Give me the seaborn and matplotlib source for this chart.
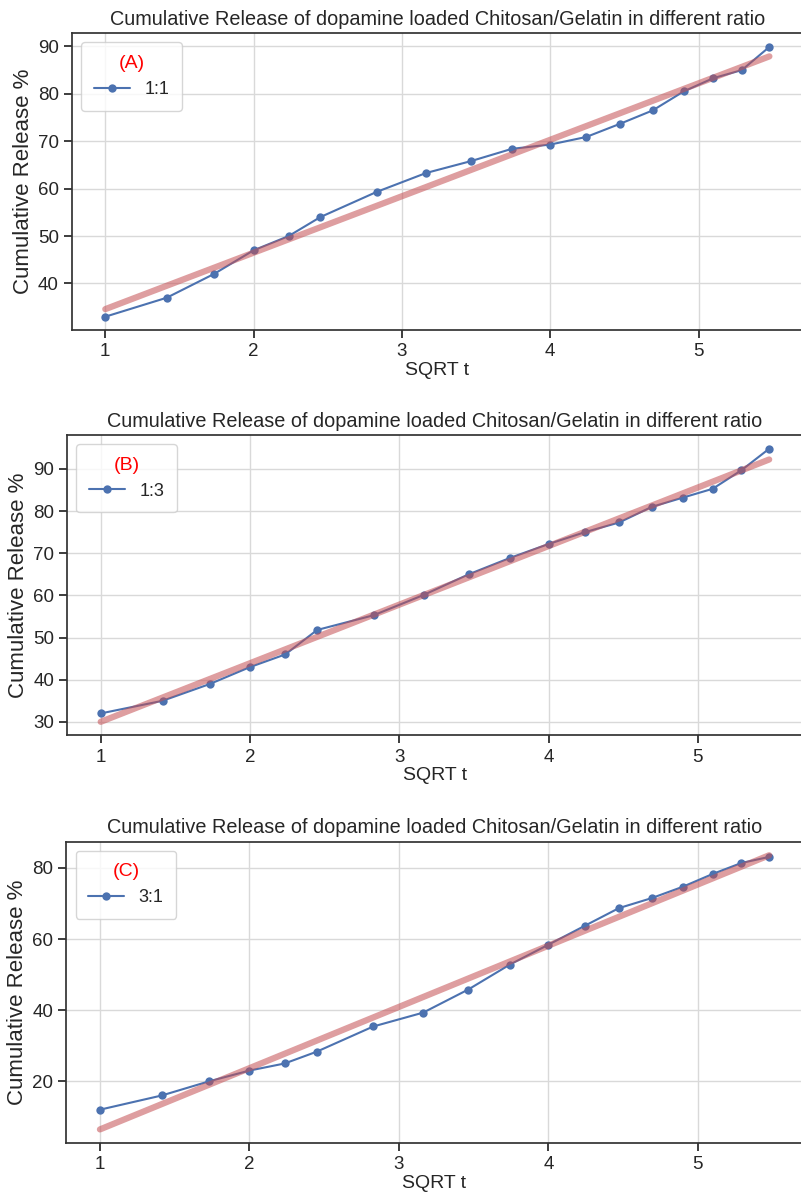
import numpy as np
import pandas as pd
import matplotlib
matplotlib.use("Agg")
import matplotlib.pyplot as plt
import seaborn as sns

# release times (h) -> plotted against sqrt(t)
t = [1, 2, 3, 4, 5, 6, 8, 10, 12, 14, 16, 18, 20, 22, 24, 26, 28, 30]

rel_11 = [33.0, 37.0, 42.0, 47.0, 50.0, 54.0, 59.3, 63.3, 65.8, 68.4, 69.3,
          70.9, 73.7, 76.5, 80.5, 83.3, 85.0, 89.9]
rel_13 = [32.0, 35.0, 39.0, 43.0, 46.0, 51.8, 55.3, 60.1, 65.0, 68.9, 72.2,
          75.0, 77.3, 81.0, 83.2, 85.3, 89.7, 94.8]
rel_31 = [12.0, 16.0, 20.0, 23.0, 25.0, 28.3, 35.4, 39.3, 45.8, 52.8, 58.4,
          63.7, 68.7, 71.5, 74.7, 78.3, 81.4, 83.1]

ratios = ["1:1", "1:3", "3:1"]
panels = ["(A)", "(B)", "(C)"]
series = [rel_11, rel_13, rel_31]

sns.set_theme(style="ticks", rc={"axes.grid": True})
plt.rcParams['font.family'] = ['Liberation Sans', 'DejaVu Sans']
plt.rcParams['axes.edgecolor'] = '#333333'
plt.rcParams['grid.color'] = '#d9d9d9'

fig = plt.figure(figsize=(8.01, 11.92), dpi=100)
# [left, bottom, width, height] in figure fractions
boxes = [[0.090, 0.723, 0.912, 0.249],
         [0.084, 0.383, 0.918, 0.252],
         [0.083, 0.041, 0.919, 0.253]]

blue = sns.color_palette("deep")[0]
red = sns.color_palette("deep")[3]

for box, ratio, tag, y in zip(boxes, ratios, panels, series):
    ax = fig.add_axes(box)
    df = pd.DataFrame({"SQRT t": np.sqrt(t), "release": y})
    sns.lineplot(data=df, x="SQRT t", y="release", marker="o", color=blue,
                 lw=1.5, markersize=6, markeredgewidth=0, label=ratio, ax=ax)
    sns.regplot(data=df, x="SQRT t", y="release", scatter=False, ci=None,
                color=red, line_kws={"lw": 4.5, "alpha": 0.55}, ax=ax)
    ax.set_title("Cumulative Release of dopamine loaded Chitosan/Gelatin in different ratio",
                 fontsize=14.3)
    ax.set_xlabel("SQRT t", fontsize=14, labelpad=1)
    ax.set_ylabel("Cumulative Release %", fontsize=16, labelpad=3)
    ax.tick_params(labelsize=13.5)
    leg = ax.legend(title=tag, loc="upper left", fontsize=13,
                    title_fontsize=14, borderpad=0.7)
    leg.get_title().set_color("red")
    ax.spines['right'].set_visible(False)

fig.savefig("out.png", dpi=100)
